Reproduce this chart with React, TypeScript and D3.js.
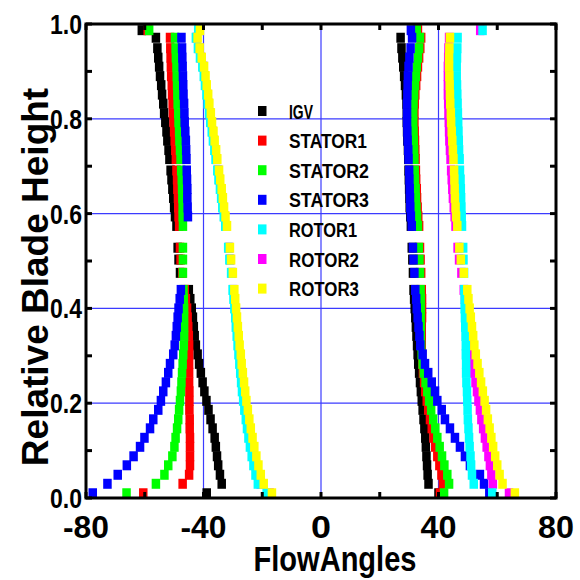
import React from "react";
import * as d3 from "d3";

// Shared blade-height levels (bottom to top)
const Y_LEVELS = [0.010, 0.030, 0.049, 0.069, 0.088, 0.108, 0.127, 0.147, 0.166, 0.186, 0.205, 0.225, 0.244, 0.264, 0.283, 0.303, 0.322, 0.342, 0.361, 0.381, 0.400, 0.420, 0.439, 0.475, 0.503, 0.528, 0.574, 0.594, 0.613, 0.633, 0.652, 0.672, 0.691, 0.715, 0.734, 0.754, 0.773, 0.793, 0.812, 0.832, 0.851, 0.871, 0.890, 0.910, 0.929, 0.949, 0.971, 0.987];

const IGV_L = [-38.9, -33.8, -34.4, -35.0, -35.4, -35.8, -36.2, -36.9, -37.6, -38.3, -39.0, -39.7, -40.3, -40.9, -41.5, -42.0, -42.6, -43.0, -43.3, -43.6, -44.0, -44.5, -45.0, -48.0, -48.5, -48.8, -49.2, -49.7, -50.0, -50.3, -50.6, -50.9, -51.2, -51.6, -51.9, -52.3, -52.6, -53.0, -53.4, -53.7, -54.1, -54.4, -54.8, -55.1, -55.4, -55.7, -56.2, -61.0];
const IGV_R = [40.0, 36.6, 36.3, 36.1, 35.9, 35.7, 35.5, 35.2, 34.9, 34.6, 34.3, 34.0, 33.7, 33.4, 33.1, 32.9, 32.7, 32.5, 32.3, 32.1, 31.9, 31.7, 31.5, 31.3, 31.1, 30.9, 30.6, 30.4, 30.2, 30.1, 30.0, 29.9, 29.8, 29.7, 29.6, 29.4, 29.3, 29.2, 29.2, 29.1, 28.9, 28.6, 28.3, 28.0, 27.7, 27.4, 27.1, null];

const STATOR1_L = [-60.5, -47.1, -44.9, -44.6, -44.6, -44.6, -44.6, -44.7, -44.7, -44.8, -44.8, -44.8, -44.9, -44.9, -44.9, -44.9, -44.9, -45.0, -45.2, -45.4, -45.6, -46.0, -46.4, -47.2, -47.8, -48.0, -48.3, -48.5, -48.6, -48.7, -48.9, -49.0, -49.2, -49.4, -49.6, -49.8, -50.0, -50.2, -50.4, -50.5, -50.7, -50.8, -51.0, -51.1, -51.2, -51.3, -51.4, -59.0];
const STATOR1_R = [40.5, 41.5, 41.0, 40.3, 39.6, 38.9, 38.3, 37.7, 37.1, 36.5, 36.0, 35.5, 35.1, 34.7, 34.5, 34.4, 34.3, 34.3, 34.3, 34.4, 34.4, 34.4, 34.3, 34.1, 33.9, 33.7, 33.4, 33.1, 32.9, 32.7, 32.6, 32.4, 32.3, 32.2, 32.1, 32.0, 31.9, 31.8, 31.8, 31.9, 32.1, 32.4, 32.7, 33.0, 33.4, 33.8, 34.1, 33.0];

const STATOR2_L = [-66.2, -56.2, -53.3, -52.0, -50.6, -49.9, -49.5, -49.0, -48.6, -48.3, -48.0, -47.7, -47.5, -47.3, -47.1, -46.9, -46.7, -46.6, -46.6, -46.6, -46.6, -46.7, -46.8, -47.0, -47.0, -47.0, -47.0, -47.1, -47.1, -47.2, -47.3, -47.4, -47.6, -47.8, -48.0, -48.2, -48.3, -48.5, -48.6, -48.8, -48.9, -49.0, -49.1, -49.2, -49.4, -49.5, -49.7, -58.5];
const STATOR2_R = [41.9, 43.6, 43.0, 42.0, 41.2, 40.4, 39.6, 38.9, 38.2, 37.5, 36.8, 36.2, 35.6, 35.0, 34.6, 34.3, 34.1, 34.0, 34.0, 34.0, 34.0, 34.0, 33.9, 33.7, 33.5, 33.3, 33.0, 32.7, 32.5, 32.3, 32.2, 32.0, 31.9, 31.8, 31.7, 31.6, 31.5, 31.4, 31.4, 31.5, 31.7, 32.0, 32.3, 32.6, 33.0, 33.4, 33.7, 32.6];

const STATOR3_L = [-77.7, -72.7, -69.2, -66.1, -63.8, -61.6, -60.1, -58.2, -57.1, -55.4, -54.5, -53.7, -52.8, -52.0, -51.4, -50.3, -49.8, -49.4, -49.1, -48.8, -48.5, -48.1, -47.7, null, null, null, null, -45.3, -45.4, -45.5, -45.5, -45.6, -45.7, -45.8, -45.9, -46.0, -46.2, -46.4, -46.5, -46.6, -46.8, -46.9, -47.0, -47.1, -47.2, -47.3, -47.5, null];
const STATOR3_R = [57.3, 55.5, 54.1, 50.7, 49.0, 47.3, 45.6, 43.9, 42.2, 41.1, 39.6, 38.8, 37.7, 36.5, 35.4, 34.6, 33.8, 33.5, 33.2, 32.9, 32.6, 32.4, 32.1, 31.8, 31.5, 31.3, 30.9, 30.6, 30.4, 30.3, 30.2, 30.1, 30.0, 29.8, 29.7, 29.5, 29.4, 29.3, 29.3, 29.3, 29.4, 29.5, 29.6, 29.8, 30.1, 30.5, 31.0, 30.6];

const ROTOR1_L = [-18.5, -21.5, -22.3, -23.0, -23.6, -24.2, -24.7, -25.2, -25.6, -26.1, -26.5, -26.9, -27.2, -27.5, -27.8, -28.1, -28.4, -28.7, -29.0, -29.2, -29.5, -29.8, -30.1, -30.6, -31.2, -31.6, -32.6, -33.1, -33.6, -34.0, -34.4, -34.9, -35.3, -35.9, -36.3, -36.8, -37.2, -37.7, -38.1, -38.6, -39.0, -39.5, -39.9, -40.4, -41.2, -41.9, -42.6, -41.8];
const ROTOR1_R = [58.3, 52.0, 51.4, 51.1, 50.9, 50.6, 50.4, 50.2, 50.0, 49.9, 49.8, 49.7, 49.5, 49.4, 49.4, 49.3, 49.3, 49.2, 49.1, 49.0, 48.9, 48.9, 48.8, 48.7, 48.5, 48.4, 48.0, 47.9, 47.8, 47.7, 47.6, 47.5, 47.3, 47.2, 47.0, 46.9, 46.8, 46.7, 46.6, 46.5, 46.4, 46.3, 46.2, 46.2, 46.3, 46.4, 46.5, 55.0];

const ROTOR2_L = [-17.5, -20.5, -21.5, -22.2, -22.9, -23.5, -24.1, -24.6, -25.1, -25.6, -26.0, -26.4, -26.8, -27.1, -27.4, -27.7, -28.0, -28.3, -28.6, -28.9, -29.2, -29.5, -29.8, -30.3, -30.9, -31.3, -32.3, -32.8, -33.3, -33.7, -34.1, -34.6, -35.0, -35.6, -36.0, -36.5, -36.9, -37.4, -37.8, -38.3, -38.7, -39.2, -39.6, -40.1, -40.9, -41.6, -42.3, -41.5];
const ROTOR2_R = [64.0, 58.5, 58.0, 57.5, 57.0, 56.4, 55.8, 55.2, 54.6, 54.1, 53.6, 53.1, 52.6, 52.2, 51.8, 51.4, 51.0, 50.6, 50.2, 49.8, 49.4, 49.0, 48.6, 47.8, 47.0, 46.5, 45.8, 45.5, 45.2, 44.9, 44.7, 44.5, 44.3, 44.1, 43.9, 43.7, 43.6, 43.5, 43.4, 43.3, 43.2, 43.2, 43.2, 43.2, 43.3, 43.4, 43.6, 54.2];

const ROTOR3_L = [-16.7, -19.5, -20.5, -21.3, -22.0, -22.7, -23.3, -23.9, -24.4, -24.9, -25.4, -25.8, -26.2, -26.6, -27.0, -27.3, -27.7, -28.0, -28.3, -28.6, -28.9, -29.2, -29.5, -30.0, -30.6, -31.0, -32.0, -32.5, -33.0, -33.4, -33.8, -34.3, -34.7, -35.3, -35.7, -36.2, -36.6, -37.1, -37.5, -38.0, -38.4, -38.9, -39.3, -39.8, -40.6, -41.3, -42.0, -41.2];
const ROTOR3_R = [66.0, 61.8, 60.8, 60.0, 59.3, 58.6, 58.0, 57.4, 56.8, 56.2, 55.7, 55.1, 54.5, 53.9, 53.3, 52.7, 52.2, 51.8, 51.4, 51.0, 50.6, 50.2, 49.8, 48.6, 47.6, 47.1, 46.4, 46.0, 45.8, 45.6, 45.5, 45.4, 45.3, 45.1, 44.9, 44.7, 44.5, 44.3, 44.2, 44.0, 43.9, 43.8, 43.7, 43.6, 43.6, 43.7, 43.9, null];

const SERIES_NAMES = ["IGV", "STATOR1", "STATOR2", "STATOR3", "ROTOR1", "ROTOR2", "ROTOR3"];
const SERIES_COLORS = ["#000000", "#ff0000", "#00ff00", "#0000ff", "#00ffff", "#ff00ff", "#ffff00"];
const SERIES_LEFT = [IGV_L, STATOR1_L, STATOR2_L, STATOR3_L, ROTOR1_L, ROTOR2_L, ROTOR3_L];
const SERIES_RIGHT = [IGV_R, STATOR1_R, STATOR2_R, STATOR3_R, ROTOR1_R, ROTOR2_R, ROTOR3_R];
// order in which the marker layers are painted (indices into the series above)
const DRAW_ORDER = [0, 1, 2, 3, 5, 4, 6];

const X_TICKS = [-80, -40, 0, 40, 80];
const X_MINOR = [-80, -60, -40, -20, 0, 20, 40, 60, 80];
const Y_TICKS = [0, 0.2, 0.4, 0.6, 0.8, 1.0];
const Y_MINOR = [0, 0.1, 0.2, 0.3, 0.4, 0.5, 0.6, 0.7, 0.8, 0.9, 1.0];
const X_GRID = [-40, 0, 40];
const Y_GRID = [0.2, 0.4, 0.6, 0.8];

const W = 580, H = 580;
const L = 86, R = 556, T = 24, B = 498;
const FONT = "'Liberation Sans', Arial, sans-serif";
const MW = 8.5, MH = 10;

export default function App() {
  const x = d3.scaleLinear().domain([-80, 80]).range([L, R]);
  const y = d3.scaleLinear().domain([0, 1]).range([B, T]);

  const xLabelW: Record<string, number> = { "-80": 46, "-40": 46, "0": 20, "40": 36, "80": 36 };
  const yLabelW = 32;
  const gridColor = "#3b3bff";

  const series = SERIES_NAMES.map((name, i) => ({
    name,
    color: SERIES_COLORS[i],
    pts: [
      ...Y_LEVELS.map((yy, k) => ({ v: SERIES_LEFT[i][k], h: yy })),
      ...Y_LEVELS.map((yy, k) => ({ v: SERIES_RIGHT[i][k], h: yy })),
    ].filter((p) => p.v !== null && p.v !== undefined),
  }));

  return (
    <svg width={W} height={H} style={{ position: "absolute", left: 0, top: 0, background: "#fff" }} fontFamily={FONT}>
      <rect x={0} y={0} width={W} height={H} fill="#fff" />
      {/* grid */}
      {Y_GRID.map((g) => (
        <line key={"gy" + g} x1={L} x2={R} y1={y(g)} y2={y(g)} stroke={gridColor} strokeWidth={1.2} />
      ))}
      {X_GRID.map((g) => (
        <line key={"gx" + g} x1={x(g)} x2={x(g)} y1={T} y2={B} stroke={gridColor} strokeWidth={1.2} />
      ))}
      {/* markers */}
      {DRAW_ORDER.map((i) => {
        const s = series[i];
        return (
          <g key={s.name} fill={s.color}>
            {s.pts.map((p, k) => (
              <rect key={k} x={x(p.v as number) - MW / 2} y={y(p.h) - MH / 2} width={MW} height={MH} />
            ))}
          </g>
        );
      })}
      {/* frame */}
      <rect x={L} y={T} width={R - L} height={B - T} fill="none" stroke="#000" strokeWidth={3} />
      {/* ticks */}
      {X_MINOR.map((t) => (
        <g key={"xt" + t} stroke="#000" strokeWidth={3}>
          <line x1={x(t)} x2={x(t)} y1={B} y2={B - 6} />
          <line x1={x(t)} x2={x(t)} y1={T} y2={T + 6} />
        </g>
      ))}
      {Y_MINOR.map((t) => (
        <g key={"yt" + t} stroke="#000" strokeWidth={3}>
          <line x1={L} x2={L + 6} y1={y(t)} y2={y(t)} />
          <line x1={R} x2={R - 6} y1={y(t)} y2={y(t)} />
        </g>
      ))}
      {/* tick labels */}
      {X_TICKS.map((t) => {
        const s = String(t);
        return (
          <text key={"xl" + t} x={x(t)} y={538} textAnchor="middle" fontSize={31} fontWeight="bold"
            textLength={xLabelW[s]} lengthAdjust="spacingAndGlyphs">{s}</text>
        );
      })}
      {Y_TICKS.map((t) => (
        <text key={"yl" + t} x={82} y={y(t) + 10} textAnchor="end" fontSize={28} fontWeight="bold"
          textLength={yLabelW} lengthAdjust="spacingAndGlyphs">{t.toFixed(1)}</text>
      ))}
      {/* axis titles */}
      <text x={335} y={571} textAnchor="middle" fontSize={35} fontWeight="bold" textLength={163} lengthAdjust="spacingAndGlyphs">FlowAngles</text>
      <text transform={`translate(48, ${277}) rotate(-90)`} textAnchor="middle" fontSize={37} fontWeight="bold">Relative Blade Height</text>
      {/* legend */}
      {series.map((s, i) => {
        const cy = 111 + i * 29.6;
        const tw = [24, 78, 80, 80, 68, 70, 70][i];
        return (
          <g key={"lg" + s.name}>
            <rect x={258} y={cy - 5} width={8.5} height={10} fill={s.color} />
            <text x={289} y={cy + 7.5} fontSize={21} fontWeight="bold" textLength={tw} lengthAdjust="spacingAndGlyphs">{s.name}</text>
          </g>
        );
      })}
    </svg>
  );
}
